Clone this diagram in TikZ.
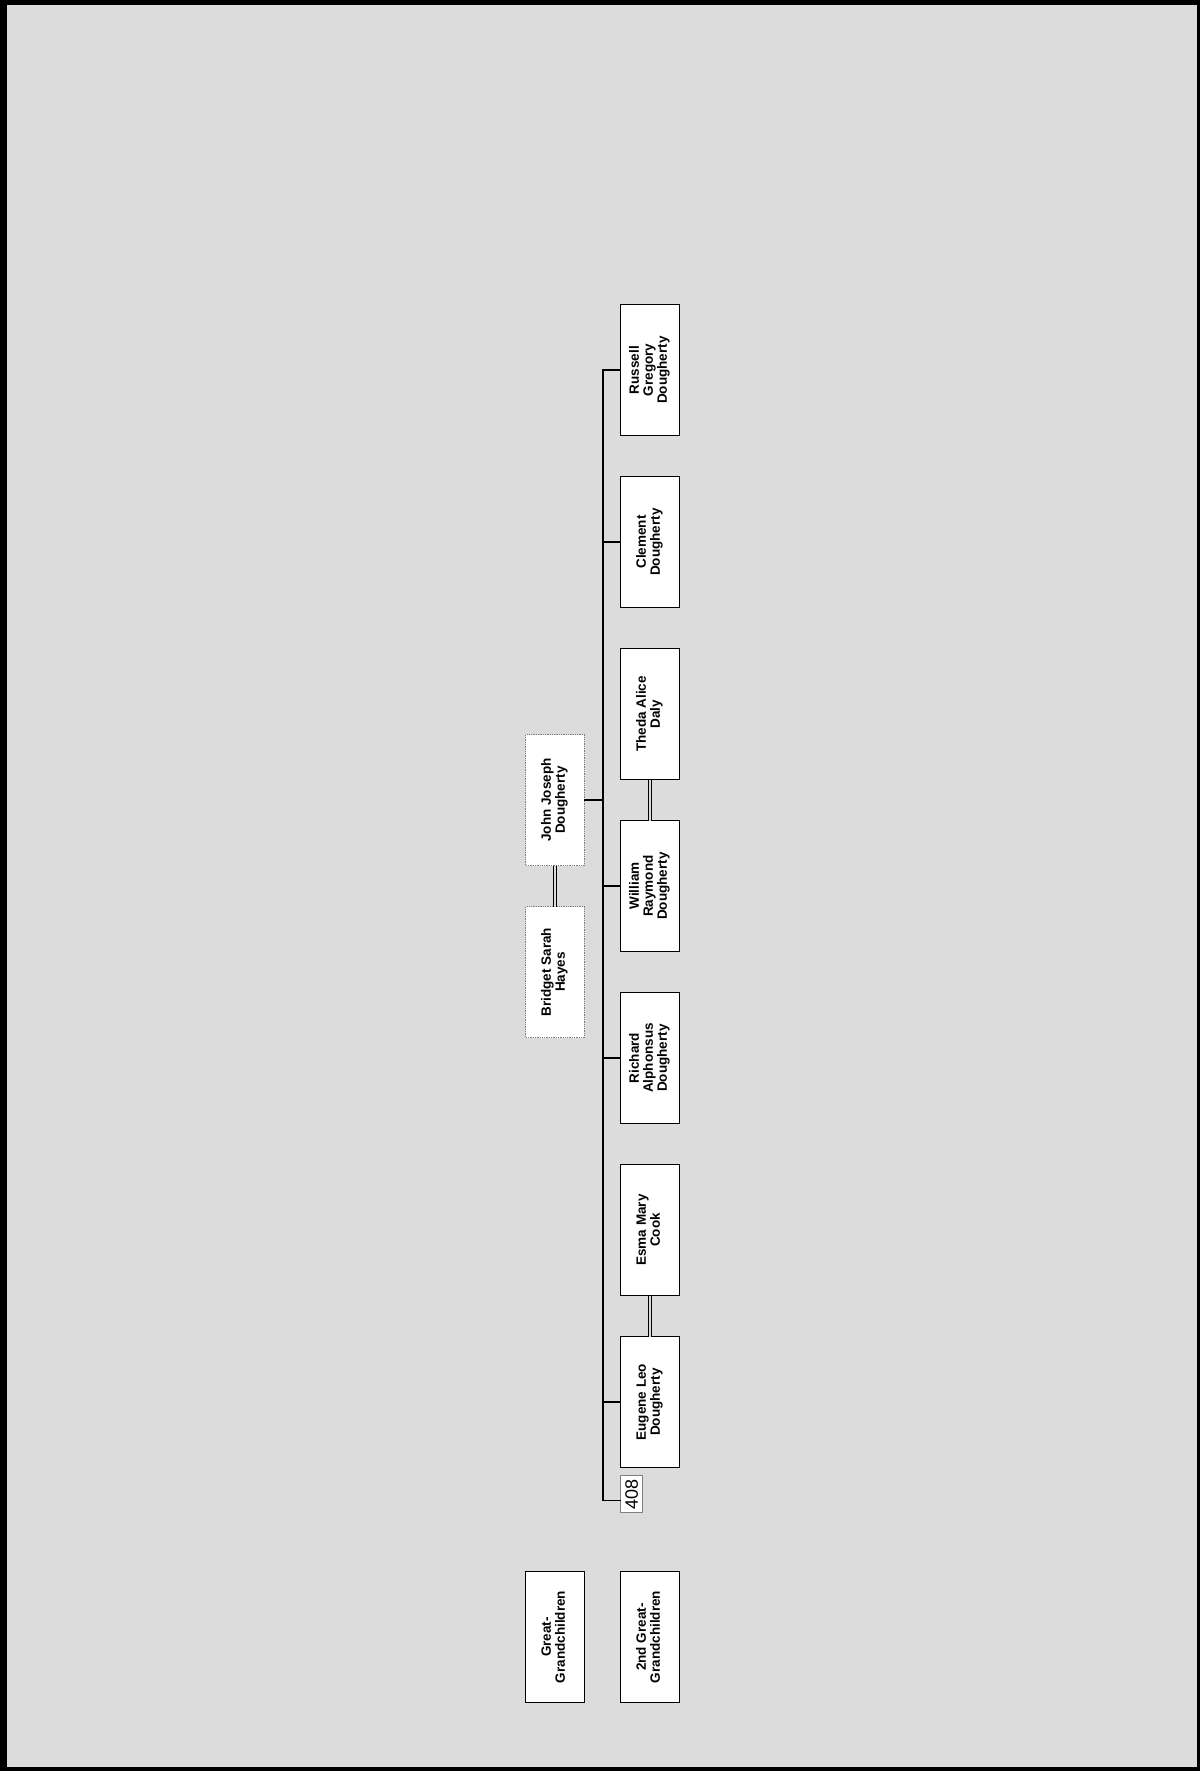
\documentclass[tikz,border=0pt]{standalone}
\usepackage{fontspec}
\setmainfont{Liberation Sans}
\usetikzlibrary{positioning}
\definecolor{bggray}{HTML}{DCDCDC}
\newcommand{\vlabel}[1]{\rotatebox{90}{\begin{tabular}{@{}c@{}}#1\end{tabular}}}

\begin{document}
\begin{tikzpicture}[
  x=1pt,y=1pt,
  font=\bfseries\fontsize{13.5}{14}\selectfont,
  node distance=41pt and 20pt,
  person/.style={draw=black,line width=1.3pt,fill=white,outer sep=0pt,
    minimum width=58.6pt,minimum height=131pt,inner sep=0pt,align=center},
  inlaw/.style={person,draw=gray,densely dotted,line width=1pt},
  numbox/.style={draw=gray,line width=1pt,fill=white,inner sep=0pt,outer sep=0pt,
    minimum width=22pt,minimum height=37pt,
    font=\mdseries\fontsize{18}{18}\selectfont},
  branch/.style={draw=black,line width=1.2pt},
  parent/.style={draw=black,line width=2.4pt},
  marriage/.style={draw=black,line width=1pt,double=bggray,double distance=2.6pt}
]
  \useasboundingbox (0,0) rectangle (1200,-1771);
  \fill[black] (0,0) rectangle (1200,-1771);
  \fill[bggray] (7,-5) rectangle (1196.5,-1766.5);

  % great-grandchildren
  \node[inlaw] (john) at (555,-800) {\vlabel{John Joseph\\Dougherty}};
  \node[inlaw,below=of john] (bridget) {\vlabel{Bridget Sarah\\Hayes}};

  % 2nd great-grandchildren
  \node[person] (russell) at (650,-370) {\vlabel{Russell\\Gregory\\Dougherty}};
  \node[person,below=of russell] (clement) {\vlabel{Clement\\Dougherty}};
  \node[person,below=of clement] (theda) {\vlabel{Theda Alice\\Daly}};
  \node[person,below=of theda] (william) {\vlabel{William\\Raymond\\Dougherty}};
  \node[person,below=of william] (richard) {\vlabel{Richard\\Alphonsus\\Dougherty}};
  \node[person,below=of richard] (esma) {\vlabel{Esma Mary\\Cook}};
  \node[person,below=of esma] (eugene) {\vlabel{Eugene Leo\\Dougherty}};
  \node[numbox,anchor=north west] (num) at ([yshift=-8pt]eugene.south west) {\rotatebox{90}{408}};

  % generation labels
  \node[person] (great) at (555,-1637) {\vlabel{Great-\\Grandchildren}};
  \node[person] (second) at (650,-1637) {\vlabel{2nd Great-\\Grandchildren}};

  % lines
  \coordinate (spine) at (603,0);
  \draw[marriage] (john) -- (bridget);
  \draw[marriage] (theda) -- (william);
  \draw[marriage] (esma) -- (eugene);
  \draw[branch] (russell.west) -- (russell.west -| spine) |- ([yshift=-6.5pt]num.west);
  \foreach \kid in {clement,william,richard,eugene}
    \draw[branch] (\kid.west) -- (\kid.west -| spine);
  \draw[parent] (john.east) -- (john.east -| spine);
\end{tikzpicture}
\end{document}
